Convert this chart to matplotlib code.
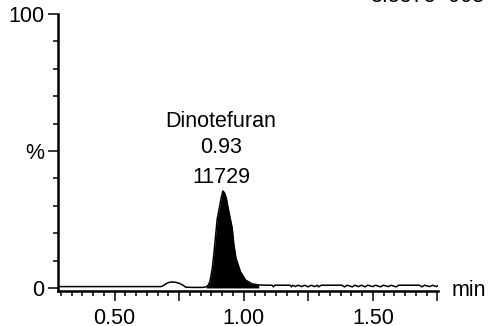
from __future__ import annotations

import matplotlib

matplotlib.use("Agg")
import matplotlib.pyplot as plt
from matplotlib.ticker import MultipleLocator

plt.rcParams["font.family"] = ["Liberation Sans", "DejaVu Sans"]
plt.rcParams["font.size"] = 15.5

# chromatogram trace (retention time in min, relative intensity in %)
time_min = [
	0.281, 0.33, 0.40, 0.50, 0.60, 0.68, 0.690, 0.700, 0.710, 0.720, 0.735, 0.750, 0.765, 0.775,
	0.80, 0.84, 0.855, 0.862, 0.869, 0.878, 0.885, 0.891, 0.897, 0.907, 0.913, 0.919, 0.925,
	0.932, 0.942, 0.955, 0.962, 0.970, 0.987, 1.007, 1.032, 1.058, 1.09, 1.110, 1.115, 1.120,
	1.18, 1.185, 1.19, 1.20, 1.21, 1.225, 1.235, 1.25, 1.26, 1.275, 1.285, 1.29, 1.30,
	1.38, 1.39, 1.40, 1.42, 1.43, 1.445, 1.455, 1.47, 1.48, 1.50, 1.51, 1.53, 1.54, 1.56, 1.57,
	1.59, 1.60, 1.68, 1.69, 1.70, 1.72, 1.73, 1.745, 1.755,
]
intensity_pct = [
	0.5, 0.5, 0.5, 0.5, 0.5, 0.5, 0.9, 1.6, 2.0, 2.2, 2.1, 1.7, 1.0, 0.3,
	0.2, 0.2, 0.4, 1.0, 2.3, 7.0, 13.0, 19.0, 25.0, 30.0, 33.0, 35.4, 34.8,
	33.0, 28.0, 22.0, 15.7, 10.8, 6.0, 2.9, 1.5, 1.1, 1.0, 1.0, 0.4, 1.0,
	1.0, 0.4, 1.0, 0.5, 1.0, 0.5, 1.0, 0.4, 1.0, 0.5, 1.0, 0.4, 1.0,
	1.0, 0.4, 1.0, 0.4, 1.0, 0.5, 1.0, 0.4, 1.0, 0.5, 1.0, 0.4, 1.0, 0.5, 1.0,
	0.4, 1.0, 1.0, 0.4, 1.0, 0.5, 1.0, 0.5, 1.0,
]

peak_name = "Dinotefuran"
peak_rt = "0.93"
peak_area = "11729"
peak_window = (0.855, 1.06)
header_text = "3.557e+003"

x_major = [0.50, 0.75, 1.00, 1.25, 1.50, 1.75]
x_major_labels = ["0.50", "", "1.00", "", "1.50", ""]
y_major = [0, 50, 100]
y_major_labels = ["0", "%", "100"]


def plot_chromatogram(output: str) -> None:
	fig = plt.figure(figsize=(4.89, 3.26), dpi=100)
	ax = fig.add_axes([58 / 489, 35.3 / 326, 380 / 489, 276.7 / 326])

	ax.plot(time_min, intensity_pct, color="black", linewidth=1.1)
	in_peak = [peak_window[0] <= t <= peak_window[1] for t in time_min]
	ax.fill_between(time_min, intensity_pct, 0, where=in_peak, color="black", linewidth=0)

	ax.set_xlim(0.281, 1.752)
	ax.set_ylim(-1, 100)

	for side in ["top", "right"]:
		ax.spines[side].set_visible(False)
	for side in ["left", "bottom"]:
		ax.spines[side].set_linewidth(1.8)
		ax.spines[side].set_capstyle("projecting")

	ax.set_xticks(x_major, labels=x_major_labels)
	ax.xaxis.set_minor_locator(MultipleLocator(0.25 / 6))
	ax.set_yticks(y_major, labels=y_major_labels)
	ax.yaxis.set_minor_locator(MultipleLocator(10))
	ax.tick_params(axis="x", which="major", length=7.2, width=1.1, pad=5, direction="out")
	ax.tick_params(axis="x", which="minor", length=3.6, width=1.1, direction="out")
	ax.tick_params(axis="y", which="major", length=7.5, width=1.1, pad=2.5, direction="out")
	ax.tick_params(axis="y", which="minor", length=3.6, width=1.1, direction="out")

	label_x = 0.9115
	ax.text(label_x, 60.6, peak_name, ha="center", va="center")
	ax.text(label_x, 51.1, peak_rt, ha="center", va="center")
	ax.text(label_x, 40.5, peak_area, ha="center", va="center")

	fig.text(452 / 489, 36 / 326, "min", ha="left", va="center")
	# the reference only shows the lower edge of this header line
	fig.text(370 / 489, 323.5 / 326, header_text, ha="left", va="baseline")

	fig.savefig(output, dpi=100)
	plt.close(fig)


if __name__ == "__main__":
	plot_chromatogram("out.png")
